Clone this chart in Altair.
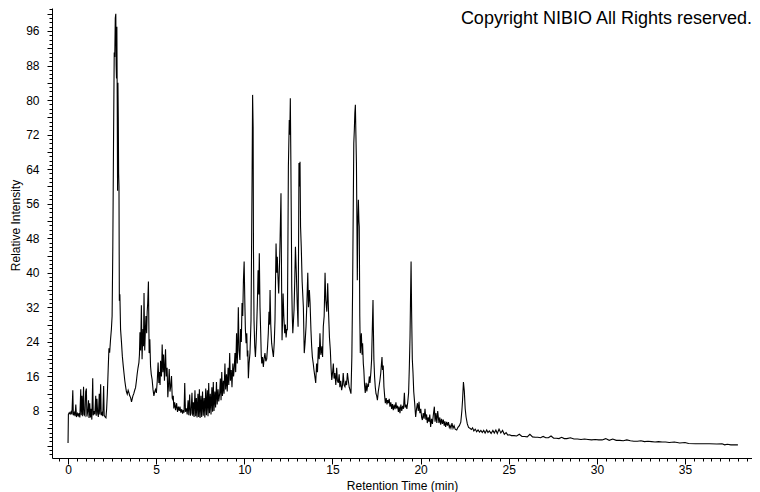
import altair as alt
import pandas as pd

# ---- data ----
retention_time = [
    0.00, 0.02, 0.07, 0.12, 0.17, 0.22, 0.27, 0.30, 0.35, 0.40,
    0.44, 0.48, 0.53, 0.58, 0.62, 0.67, 0.72, 0.75, 0.79, 0.83,
    0.88, 0.91, 0.96, 1.00, 1.04, 1.07, 1.12, 1.16, 1.19, 1.23,
    1.27, 1.31, 1.35, 1.40, 1.43, 1.47, 1.52, 1.57, 1.60, 1.64,
    1.68, 1.72, 1.77, 1.80, 1.85, 1.88, 1.93, 1.97, 2.02, 2.05,
    2.10, 2.15, 2.19, 2.23, 2.28, 2.32, 2.36, 2.41, 2.46, 2.50,
    2.54, 2.58, 2.62, 2.65, 2.68, 2.71, 2.73, 2.75, 2.77, 2.79,
    2.81, 2.83, 2.85, 2.87, 2.89, 2.91, 2.94, 2.98, 3.03, 3.08,
    3.13, 3.17, 3.22, 3.26, 3.31, 3.36, 3.41, 3.45, 3.50, 3.55,
    3.60, 3.64, 3.68, 3.73, 3.78, 3.83, 3.88, 3.92, 3.97, 4.02,
    4.05, 4.08, 4.12, 4.16, 4.20, 4.25, 4.28, 4.31, 4.35, 4.39,
    4.42, 4.46, 4.49, 4.52, 4.56, 4.60, 4.64, 4.68, 4.72, 4.77,
    4.82, 4.87, 4.92, 4.96, 5.01, 5.06, 5.11, 5.15, 5.18, 5.22,
    5.25, 5.30, 5.34, 5.38, 5.42, 5.47, 5.53, 5.57, 5.62, 5.66,
    5.70, 5.74, 5.78, 5.82, 5.87, 5.91, 5.94, 5.97, 6.00, 6.05,
    6.10, 6.16, 6.21, 6.26, 6.31, 6.35, 6.40, 6.45, 6.50, 6.54,
    6.58, 6.62, 6.66, 6.71, 6.76, 6.81, 6.85, 6.90, 6.94, 6.98,
    7.03, 7.07, 7.11, 7.15, 7.20, 7.24, 7.28, 7.32, 7.37, 7.41,
    7.45, 7.49, 7.54, 7.58, 7.63, 7.67, 7.72, 7.76, 7.81, 7.85,
    7.90, 7.94, 7.98, 8.02, 8.07, 8.11, 8.16, 8.20, 8.24, 8.28,
    8.33, 8.37, 8.42, 8.46, 8.51, 8.55, 8.60, 8.64, 8.68, 8.72,
    8.76, 8.81, 8.85, 8.90, 8.94, 8.99, 9.03, 9.08, 9.12, 9.17,
    9.21, 9.26, 9.30, 9.35, 9.39, 9.43, 9.47, 9.51, 9.56, 9.60,
    9.63, 9.66, 9.70, 9.75, 9.79, 9.83, 9.87, 9.91, 9.95, 9.99,
    10.03, 10.06, 10.10, 10.14, 10.17, 10.20, 10.23, 10.27, 10.32, 10.35,
    10.38, 10.41, 10.44, 10.47, 10.50, 10.52, 10.55, 10.59, 10.63, 10.67,
    10.70, 10.74, 10.78, 10.82, 10.85, 10.89, 10.93, 10.96, 10.99, 11.03,
    11.08, 11.12, 11.17, 11.22, 11.27, 11.32, 11.36, 11.40, 11.43, 11.46,
    11.50, 11.55, 11.60, 11.65, 11.70, 11.74, 11.77, 11.80, 11.84, 11.87,
    11.91, 11.95, 11.99, 12.02, 12.05, 12.08, 12.11, 12.14, 12.17, 12.20,
    12.24, 12.29, 12.33, 12.37, 12.41, 12.44, 12.47, 12.50, 12.55, 12.58,
    12.61, 12.64, 12.67, 12.69, 12.72, 12.75, 12.79, 12.82, 12.86, 12.90,
    12.95, 13.00, 13.05, 13.08, 13.10, 13.14, 13.16, 13.19, 13.23, 13.28,
    13.35, 13.40, 13.45, 13.50, 13.55, 13.60, 13.64, 13.69, 13.73, 13.78,
    13.82, 13.86, 13.91, 13.95, 14.00, 14.05, 14.10, 14.15, 14.20, 14.25,
    14.29, 14.34, 14.40, 14.44, 14.48, 14.53, 14.58, 14.62, 14.68, 14.73,
    14.78, 14.83, 14.88, 14.92, 14.96, 15.01, 15.05, 15.09, 15.14, 15.19,
    15.24, 15.28, 15.33, 15.38, 15.42, 15.47, 15.52, 15.57, 15.61, 15.66,
    15.71, 15.76, 15.80, 15.85, 15.90, 15.95, 16.00, 16.05, 16.10, 16.14,
    16.18, 16.21, 16.24, 16.27, 16.30, 16.33, 16.36, 16.39, 16.41, 16.44,
    16.47, 16.50, 16.52, 16.55, 16.58, 16.61, 16.64, 16.68, 16.71, 16.75,
    16.78, 16.82, 16.86, 16.91, 16.95, 17.00, 17.04, 17.09, 17.13, 17.18,
    17.22, 17.26, 17.30, 17.32, 17.35, 17.39, 17.43, 17.47, 17.51, 17.55,
    17.60, 17.64, 17.69, 17.74, 17.78, 17.81, 17.84, 17.88, 17.92, 17.96,
    18.00, 18.05, 18.09, 18.13, 18.17, 18.22, 18.26, 18.31, 18.36, 18.40,
    18.45, 18.50, 18.55, 18.60, 18.64, 18.69, 18.74, 18.78, 18.83, 18.88,
    18.93, 18.98, 19.03, 19.08, 19.12, 19.17, 19.22, 19.27, 19.32, 19.36,
    19.40, 19.43, 19.46, 19.49, 19.53, 19.57, 19.61, 19.66, 19.72, 19.77,
    19.82, 19.87, 19.91, 19.96, 20.01, 20.06, 20.10, 20.15, 20.20, 20.25,
    20.30, 20.34, 20.38, 20.43, 20.48, 20.52, 20.57, 20.62, 20.67, 20.72,
    20.78, 20.82, 20.87, 20.92, 20.97, 21.04, 21.09, 21.14, 21.19, 21.24,
    21.29, 21.34, 21.38, 21.42, 21.48, 21.53, 21.58, 21.63, 21.67, 21.72,
    21.78, 21.84, 21.90, 21.96, 22.05, 22.12, 22.20, 22.28, 22.34, 22.38,
    22.43, 22.48, 22.53, 22.58, 22.65, 22.72, 22.80, 22.88, 22.95, 23.02,
    23.10, 23.18, 23.26, 23.34, 23.42, 23.50, 23.58, 23.66, 23.75, 23.82,
    23.90, 24.00, 24.10, 24.18, 24.27, 24.35, 24.45, 24.55, 24.65, 24.75,
    24.85, 24.95, 25.05, 25.15, 25.30, 25.45, 25.60, 25.75, 25.90, 26.05,
    26.20, 26.35, 26.50, 26.65, 26.80, 26.95, 27.10, 27.25, 27.40, 27.55,
    27.70, 27.85, 28.00, 28.15, 28.30, 28.50, 28.70, 28.90, 29.10, 29.30,
    29.50, 29.70, 29.90, 30.10, 30.30, 30.50, 30.70, 30.90, 31.10, 31.30,
    31.50, 31.70, 31.90, 32.10, 32.30, 32.50, 32.70, 32.90, 33.10, 33.30,
    33.50, 33.70, 33.90, 34.10, 34.40, 34.70, 35.00, 35.20, 35.60, 36.00,
    36.40, 36.80, 37.10, 37.25, 37.40, 37.60, 38.00,
]

relative_intensity = [
    0.6, 7.2, 7.6, 7.3, 7.8, 7.2, 12.8, 7.0, 7.6, 6.8,
    9.5, 6.6, 7.4, 6.9, 7.5, 6.5, 13.0, 7.0, 11.5, 6.8,
    13.6, 7.2, 6.9, 12.5, 13.2, 6.7, 8.0, 10.5, 6.4, 9.8,
    6.5, 8.5, 6.0, 15.6, 7.0, 8.0, 7.2, 11.5, 6.9, 10.8,
    7.5, 6.6, 12.0, 7.2, 14.2, 7.0, 7.5, 6.8, 13.8, 7.0,
    6.6, 6.4, 8.5, 12.0, 18.0, 22.5, 21.5, 24.5, 27.0, 30.0,
    46.0, 70.0, 91.0, 90.0, 99.0, 100.0, 88.0, 85.0, 97.0, 80.0,
    59.0, 84.0, 76.0, 63.0, 60.0, 33.5, 35.0, 26.9, 24.0, 20.7,
    18.5, 16.9, 15.0, 13.8, 12.5, 11.9, 12.8, 12.3, 11.5, 11.1,
    10.1, 10.8, 11.5, 12.0, 12.8, 13.4, 15.0, 16.5, 18.0, 19.2,
    21.0, 26.2, 22.0, 32.5, 20.0, 27.0, 23.0, 35.3, 22.0, 27.0,
    30.0, 26.0, 31.0, 33.0, 38.0, 21.4, 24.6, 18.4, 16.5, 15.3,
    13.0, 11.5, 12.5, 13.0, 12.2, 14.9, 19.2, 14.5, 17.0, 14.0,
    19.6, 16.0, 23.4, 17.0, 21.1, 15.0, 22.3, 16.0, 18.0, 11.2,
    14.0, 17.7, 12.5, 13.5, 16.1, 11.0, 10.7, 11.5, 8.6, 10.0,
    8.2, 9.8, 7.8, 9.0, 8.0, 9.0, 7.6, 8.4, 7.4, 8.2,
    7.6, 14.5, 7.8, 8.6, 7.2, 10.5, 7.0, 11.8, 6.9, 7.5,
    12.2, 6.9, 10.0, 6.6, 12.8, 6.8, 11.0, 6.5, 12.0, 6.6,
    13.0, 6.4, 11.5, 6.6, 12.5, 6.9, 11.0, 6.5, 13.2, 7.0,
    12.8, 6.8, 14.5, 7.5, 12.0, 7.2, 13.5, 7.8, 14.7, 8.0,
    12.5, 8.8, 14.7, 9.5, 13.0, 10.2, 12.0, 15.5, 10.5, 17.0,
    11.5, 15.0, 12.0, 19.0, 13.0, 16.5, 12.5, 18.0, 14.0, 21.4,
    15.0, 17.5, 13.5, 19.0, 16.0, 18.0, 21.4, 17.0, 26.0, 19.0,
    24.0, 32.0, 22.0, 19.8, 27.0, 24.0, 33.0, 30.0, 38.3, 42.6,
    33.0, 27.0, 23.7, 26.0, 20.6, 22.0, 15.6, 19.0, 21.4, 25.0,
    29.0, 45.0, 62.0, 81.2, 73.8, 45.0, 29.0, 23.0, 20.5, 24.0,
    27.5, 33.0, 40.6, 35.0, 44.5, 32.0, 26.0, 21.0, 19.0, 20.5,
    18.2, 20.0, 21.4, 19.5, 20.0, 23.0, 26.0, 31.0, 28.0, 36.0,
    28.0, 23.7, 22.0, 20.5, 24.0, 29.0, 38.0, 46.8, 40.0, 43.7,
    39.0, 35.2, 41.0, 46.0, 52.0, 58.4, 40.0, 24.4, 29.0, 35.2,
    30.0, 26.0, 28.0, 25.0, 27.0, 26.7, 45.0, 64.6, 75.4, 72.0,
    80.4, 66.0, 50.0, 36.8, 30.0, 26.0, 29.0, 31.4, 38.0, 46.0,
    40.0, 33.0, 27.5, 48.0, 65.4, 60.0, 65.7, 50.7, 46.0, 38.0,
    32.0, 21.4, 24.0, 27.5, 33.0, 40.0, 32.0, 36.0, 33.0, 26.7,
    23.0, 20.5, 19.0, 17.5, 16.0, 14.5, 19.0, 17.0, 22.8, 20.0,
    26.0, 21.0, 23.0, 20.5, 27.5, 30.0, 40.0, 33.7, 31.0, 37.6,
    30.6, 25.0, 22.0, 18.0, 15.2, 17.0, 19.0, 15.5, 16.8, 14.0,
    18.0, 15.0, 14.5, 16.5, 13.5, 15.0, 12.8, 14.0, 16.8, 14.0,
    13.6, 15.0, 14.0, 16.8, 15.0, 13.5, 12.8, 12.0, 20.5, 35.0,
    55.2, 70.0, 73.0, 77.0, 78.9, 72.0, 65.4, 50.0, 38.3, 52.0,
    56.9, 52.0, 50.7, 30.0, 21.4, 24.0, 26.0, 21.0, 23.7, 19.0,
    17.5, 14.0, 12.2, 14.5, 12.5, 14.0, 13.6, 16.0, 14.5, 17.0,
    19.8, 27.0, 33.7, 27.5, 20.0, 15.9, 13.5, 12.0, 11.5, 10.5,
    12.5, 13.6, 15.0, 16.8, 19.0, 20.5, 17.5, 18.5, 13.6, 11.5,
    9.8, 11.0, 9.5, 10.5, 9.8, 10.8, 9.0, 10.0, 8.5, 9.6,
    8.2, 9.5, 8.4, 10.0, 8.6, 9.2, 7.8, 9.0, 7.5, 9.5,
    8.0, 9.2, 8.5, 12.2, 8.8, 9.5, 8.5, 10.0, 12.2, 18.0,
    25.1, 34.4, 42.6, 31.0, 20.0, 16.8, 12.5, 10.0, 6.6, 8.5,
    9.8, 8.0, 10.1, 7.5, 8.5, 6.5, 5.9, 7.5, 6.2, 8.5,
    6.0, 7.2, 5.2, 6.5, 5.5, 7.2, 4.3, 6.2, 5.0, 7.0,
    9.0, 5.5, 7.5, 5.2, 8.0, 5.2, 6.5, 4.8, 6.2, 5.0,
    6.0, 4.6, 5.6, 4.3, 5.5, 4.6, 5.4, 4.2, 4.6, 4.0,
    5.2, 4.0, 4.6, 3.8, 3.6, 4.2, 4.6, 5.4, 8.0, 10.5,
    14.7, 12.6, 8.5, 6.6, 5.0, 4.2, 4.0, 3.7, 4.1, 3.4,
    3.8, 3.2, 3.6, 3.1, 3.5, 3.0, 3.5, 2.9, 3.6, 3.0,
    3.4, 2.8, 3.5, 2.9, 3.6, 2.8, 3.8, 2.9, 3.5, 2.6,
    3.0, 2.4, 2.5, 2.3, 2.3, 2.2, 2.6, 2.1, 2.1, 2.0,
    2.6, 2.0, 1.9, 1.9, 1.8, 2.1, 1.8, 1.8, 2.2, 1.7,
    1.7, 1.6, 1.9, 1.6, 1.6, 1.8, 1.5, 1.5, 1.4, 1.5,
    1.4, 1.3, 1.4, 1.3, 1.3, 1.6, 1.2, 1.5, 1.2, 1.2,
    1.1, 1.3, 1.1, 1.0, 1.0, 1.1, 0.9, 1.0, 0.9, 0.8,
    0.9, 0.8, 0.8, 0.7, 0.8, 0.6, 0.7, 0.45, 0.4, 0.4,
    0.4, 0.35, 0.4, 0.15, 0.3, 0.15, 0.15,
]

x_minor_ticks = [i / 2 for i in range(-1, 78)]
x_major_ticks = [0, 5, 10, 15, 20, 25, 30, 35]
y_minor_ticks = list(range(-2, 102))
y_major_ticks = [0, 4, 8, 12, 16, 20, 24, 28, 32, 36, 40, 44, 48, 52, 56, 60,
                 64, 68, 72, 76, 80, 84, 88, 92, 96, 100]
watermark = ["Copyright NIBIO All Rights reserved."]

X_DOMAIN = [-0.91, 38.80]
Y_DOMAIN = [-2.89, 101.32]
W, H = 700, 450
FONT = "Liberation Sans"

df = pd.DataFrame({"t": retention_time, "v": relative_intensity})

xs = alt.Scale(domain=X_DOMAIN, nice=False, zero=False)
ys = alt.Scale(domain=Y_DOMAIN, nice=False, zero=False)

style = dict(domainColor="black", tickColor="black", labelColor="black",
             labelFont=FONT, labelFontSize=12, titleFont=FONT, titleFontSize=12,
             titleFontWeight="normal", titleColor="black", grid=False,
             labelOverlap=False, labelFlush=False, tickWidth=1, domainWidth=1)

minor = alt.Chart(df).mark_line(color="black", strokeWidth=1.1).encode(
    x=alt.X("t:Q", scale=xs,
            axis=alt.Axis(values=x_minor_ticks, tickSize=3, labels=False,
                          title="", orient="bottom", **style)),
    y=alt.Y("v:Q", scale=ys,
            axis=alt.Axis(values=y_minor_ticks, tickSize=3, labels=False,
                          title="", orient="left", **style)),
)

major = alt.Chart(df).mark_line(strokeOpacity=0).encode(
    x=alt.X("t:Q", scale=xs,
            axis=alt.Axis(values=x_major_ticks, tickSize=6, domain=False,
                          labelExpr="'' + datum.value", labelPadding=0,
                          title="Retention Time (min)", orient="bottom",
                          titleY=27, titleBaseline="middle", **style)),
    y=alt.Y("v:Q", scale=ys,
            axis=alt.Axis(values=y_major_ticks, tickSize=5, domain=False,
                          labelExpr="datum.value % 8 == 0 && datum.value > 0 ? '' + datum.value : ''",
                          labelPadding=8, title="Relative Intensity", orient="left",
                          titleAngle=270, titleX=-37, titleY=217,
                          titleAlign="center", titleBaseline="middle", **style)),
)

text = alt.Chart(pd.DataFrame({"label": watermark})).mark_text(
    align="right", baseline="alphabetic", fontSize=18, font=FONT, color="black"
).encode(x=alt.value(700), y=alt.value(15.5), text="label:N")

chart = (
    alt.layer(minor, major, text)
    .resolve_axis(x="independent", y="independent")
    .properties(width=W, height=H,
                autosize=alt.AutoSizeParams(type="none"),
                padding={"left": 44, "top": 0, "right": 0, "bottom": 34})
    .configure_view(stroke=None)
)

chart.save("out.html", embed_options={"renderer": "svg", "actions": False})
